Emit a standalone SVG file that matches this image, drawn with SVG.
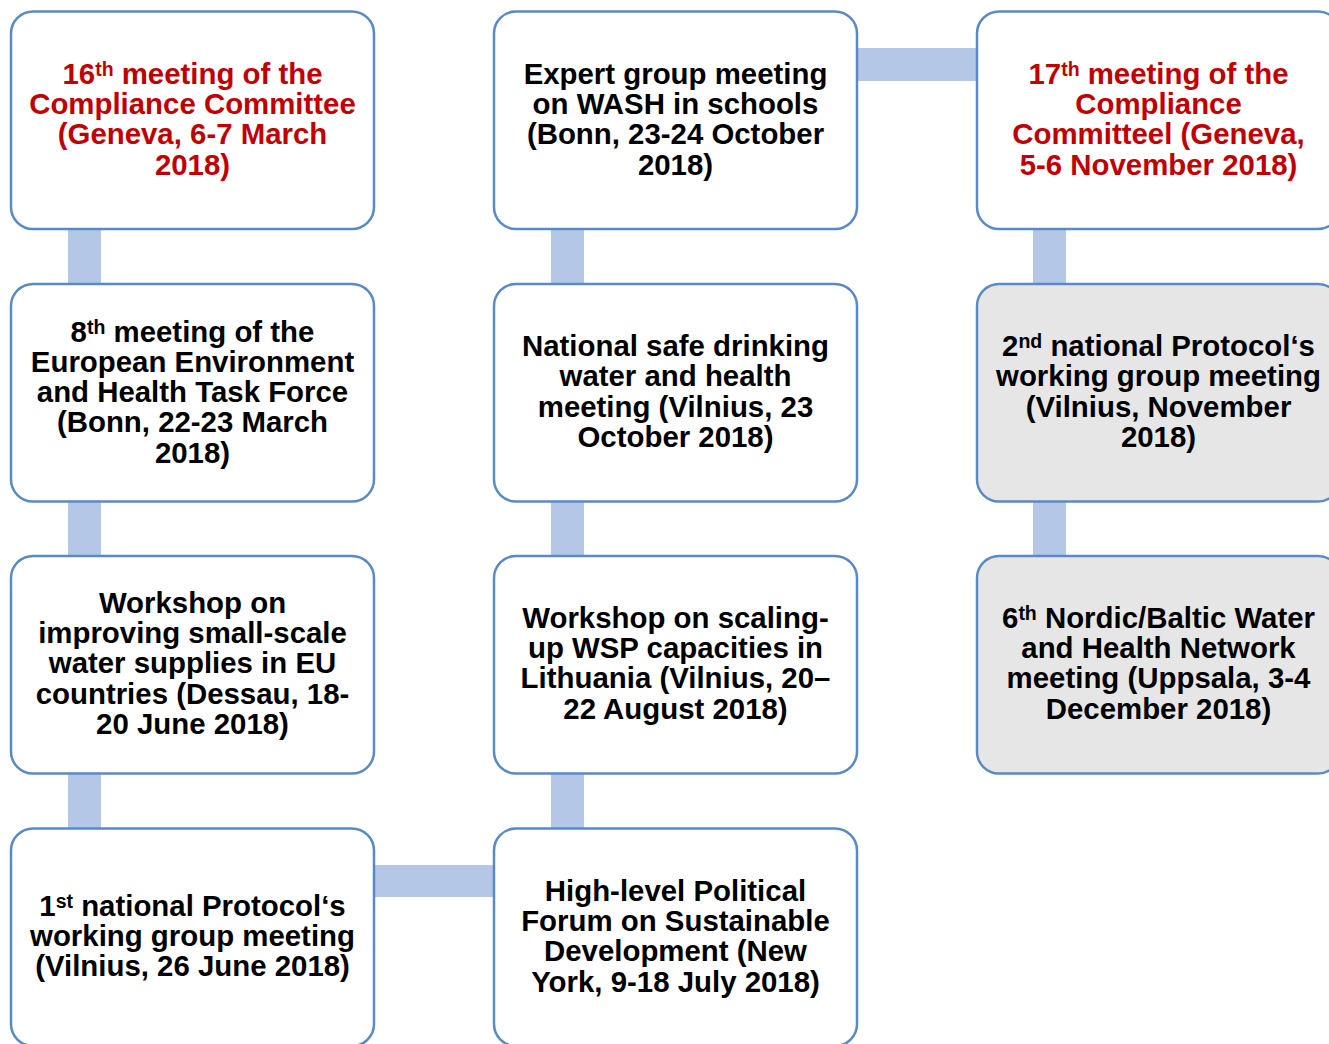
<svg xmlns="http://www.w3.org/2000/svg" width="1329" height="1044" viewBox="0 0 1329 1044">
<style>
.box{fill:#ffffff;stroke:#5a8ac6;stroke-width:2.5}
.gray{fill:#e6e6e6}
.conn{fill:#b4c7e7}
text{font-family:"Liberation Sans",Arial,sans-serif;font-weight:bold;font-size:29.4px;text-anchor:middle;fill:#000000}
.red{fill:#c00000}
.sup{font-size:19.5px}
</style>
<rect width="1329" height="1044" fill="#ffffff"/>
<g id="connectors">
<rect class="conn" x="68" y="225" width="33" height="62"/>
<rect class="conn" x="68" y="498" width="33" height="62"/>
<rect class="conn" x="68" y="770" width="33" height="62"/>
<rect class="conn" x="551" y="225" width="33" height="62"/>
<rect class="conn" x="551" y="498" width="33" height="62"/>
<rect class="conn" x="551" y="770" width="33" height="62"/>
<rect class="conn" x="1033" y="225" width="33" height="62"/>
<rect class="conn" x="1033" y="498" width="33" height="62"/>
<rect class="conn" x="853" y="48" width="127" height="33"/>
<rect class="conn" x="370" y="865" width="128" height="32"/>
</g>
<g id="n1">
<rect class="box" x="11" y="11.5" width="363" height="217.5" rx="22"/>
<text class="red"><tspan x="192.5" y="84">16<tspan class="sup" dy="-8">th</tspan><tspan dy="8"> meeting of the</tspan></tspan><tspan x="192.5" y="114">Compliance Committee</tspan><tspan x="192.5" y="144.3">(Geneva, 6-7 March</tspan><tspan x="192.5" y="174.5">2018)</tspan></text>
</g>
<g id="n2">
<rect class="box" x="11" y="284" width="363" height="217.5" rx="22"/>
<text><tspan x="192.5" y="341.7">8<tspan class="sup" dy="-8">th</tspan><tspan dy="8"> meeting of the</tspan></tspan><tspan x="192.5" y="371.9">European Environment</tspan><tspan x="192.5" y="402.1">and Health Task Force</tspan><tspan x="192.5" y="432.3">(Bonn, 22-23 March</tspan><tspan x="192.5" y="462.5">2018)</tspan></text>
</g>
<g id="n3">
<rect class="box" x="11" y="556" width="363" height="217.5" rx="22"/>
<text><tspan x="192.5" y="613">Workshop on</tspan><tspan x="192.5" y="643.2">improving small-scale</tspan><tspan x="192.5" y="673.4">water supplies in EU</tspan><tspan x="192.5" y="703.6">countries (Dessau, 18-</tspan><tspan x="192.5" y="733.8">20 June 2018)</tspan></text>
</g>
<g id="n4">
<rect class="box" x="11" y="828.5" width="363" height="217.5" rx="22"/>
<text><tspan x="192.5" y="916">1<tspan class="sup" dy="-8">st</tspan><tspan dy="8"> national Protocol‘s</tspan></tspan><tspan x="192.5" y="946.2">working group meeting</tspan><tspan x="192.5" y="976.4">(Vilnius, 26 June 2018)</tspan></text>
</g>
<g id="n5">
<rect class="box" x="494" y="11.5" width="363" height="217.5" rx="22"/>
<text><tspan x="675.5" y="84">Expert group meeting</tspan><tspan x="675.5" y="114">on WASH in schools</tspan><tspan x="675.5" y="144.3">(Bonn, 23-24 October</tspan><tspan x="675.5" y="174.5">2018)</tspan></text>
</g>
<g id="n6">
<rect class="box" x="494" y="284" width="363" height="217.5" rx="22"/>
<text><tspan x="675.5" y="356.2">National safe drinking</tspan><tspan x="675.5" y="386.4">water and health</tspan><tspan x="675.5" y="416.6">meeting (Vilnius, 23</tspan><tspan x="675.5" y="446.8">October 2018)</tspan></text>
</g>
<g id="n7">
<rect class="box" x="494" y="556" width="363" height="217.5" rx="22"/>
<text><tspan x="675.5" y="628">Workshop on scaling-</tspan><tspan x="675.5" y="658.2">up WSP capacities in</tspan><tspan x="675.5" y="688.4">Lithuania (Vilnius, 20–</tspan><tspan x="675.5" y="718.6">22 August 2018)</tspan></text>
</g>
<g id="n8">
<rect class="box" x="494" y="828.5" width="363" height="217.5" rx="22"/>
<text><tspan x="675.5" y="901">High-level Political</tspan><tspan x="675.5" y="931.2">Forum on Sustainable</tspan><tspan x="675.5" y="961.4">Development (New</tspan><tspan x="675.5" y="991.6">York, 9-18 July 2018)</tspan></text>
</g>
<g id="n9">
<rect class="box" x="977" y="11.5" width="363" height="217.5" rx="22"/>
<text class="red"><tspan x="1158.5" y="84">17<tspan class="sup" dy="-8">th</tspan><tspan dy="8"> meeting of the</tspan></tspan><tspan x="1158.5" y="114">Compliance</tspan><tspan x="1158.5" y="144.3">Committeel (Geneva,</tspan><tspan x="1158.5" y="174.5">5-6 November 2018)</tspan></text>
</g>
<g id="n10">
<rect class="box gray" x="977" y="284" width="363" height="217.5" rx="22"/>
<text><tspan x="1158.5" y="356.2">2<tspan class="sup" dy="-8">nd</tspan><tspan dy="8"> national Protocol‘s</tspan></tspan><tspan x="1158.5" y="386.4">working group meeting</tspan><tspan x="1158.5" y="416.6">(Vilnius, November</tspan><tspan x="1158.5" y="446.8">2018)</tspan></text>
</g>
<g id="n11">
<rect class="box gray" x="977" y="556" width="363" height="217.5" rx="22"/>
<text><tspan x="1158.5" y="628">6<tspan class="sup" dy="-8">th</tspan><tspan dy="8"> Nordic/Baltic Water</tspan></tspan><tspan x="1158.5" y="658.2">and Health Network</tspan><tspan x="1158.5" y="688.4">meeting (Uppsala, 3-4</tspan><tspan x="1158.5" y="718.6">December 2018)</tspan></text>
</g>
</svg>
